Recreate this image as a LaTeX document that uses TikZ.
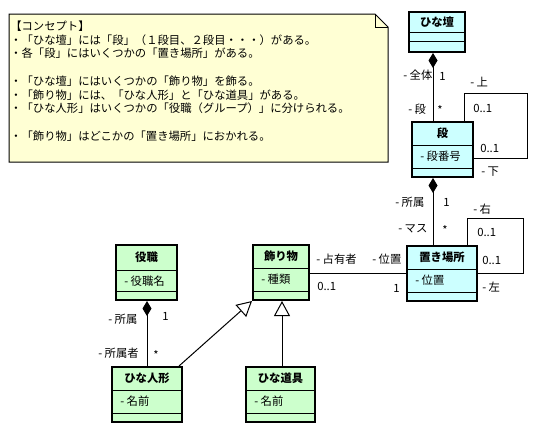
\documentclass[tikz,border=0pt]{standalone}
\usepackage{fontspec}
\setmainfont{Noto Sans CJK JP}
\usetikzlibrary{arrows.meta, positioning}
\newcommand{\pxu}{0.75pt}
\newcommand{\umlfont}{\fontsize{8.5pt}{10.3pt}\selectfont}
\definecolor{class green}{RGB}{204,255,204}
\definecolor{class cyan}{RGB}{204,255,255}
\definecolor{note yellow}{RGB}{255,255,212}
\tikzset{
  classBox/.style={draw, line width=1.5pt, inner sep=0pt, minimum height=55*\pxu},
  className/.style={font=\umlfont\bfseries, inner sep=0pt},
  attrName/.style={anchor=west, inner sep=0pt},
  part/.style={line width=0.75pt},
  role/.style={anchor=west, inner sep=0pt},
  link/.style={line width=0.75pt},
  compose/.style={link, -{Diamond[length=15*\pxu, width=9*\pxu]}},
  inherit/.style={link, -{Triangle[open, length=15*\pxu, width=16*\pxu, fill=white]}}
}

\begin{document}
\begin{tikzpicture}[x=0.75pt, y=-0.75pt, every node/.style={font=\umlfont}]
    \useasboundingbox[fill=white] (0,0) rectangle (543,433);
    % note
    \draw[fill=note yellow, line width=0.75pt] (9,14) -- (375,14) -- (388,27) -- (388,162) -- (9,162) -- cycle;
    \draw[line width=0.75pt] (375,14) -- (375,27) -- (388,27);
    \node[anchor=north west, align=left, inner sep=0pt] (concept) at (10,20.5) {%
      【コンセプト】\\
      ・「ひな壇」には「段」（１段目、２段目・・・）がある。\\
      ・各「段」にはいくつかの「置き場所」がある。\\[10.3pt]
      ・「ひな壇」にはいくつかの「飾り物」を飾る。\\
      ・「飾り物」には、「ひな人形」と「ひな道具」がある。\\
      ・「ひな人形」はいくつかの「役職（グループ）」に分けられる。\\[10.3pt]
      ・「飾り物」はどこかの「置き場所」におかれる。};

    % classes
    \node[classBox, fill=class cyan, minimum width=56*\pxu, minimum height=40*\pxu] (hinadan) at (437,32) {};
    \node[className] (hinadanTitle) at ([yshift=-11*\pxu]hinadan.north) {ひな壇};
    \draw[part] ([yshift=-21*\pxu]hinadan.north west) -- ([yshift=-21*\pxu]hinadan.north east);
    \draw[part] ([yshift=-30*\pxu]hinadan.north west) -- ([yshift=-30*\pxu]hinadan.north east);

    \node[classBox, fill=class cyan, minimum width=61*\pxu] (dan) at (442.5,149.5) {};
    \node[className] (danTitle) at ([yshift=-12*\pxu]dan.north) {段};
    \node[attrName] (danAttr) at ([xshift=9*\pxu, yshift=-35*\pxu]dan.north west) {- 段番号};
    \draw[part] ([yshift=-24*\pxu]dan.north west) -- ([yshift=-24*\pxu]dan.north east);
    \draw[part] ([yshift=-47*\pxu]dan.north west) -- ([yshift=-47*\pxu]dan.north east);

    \node[classBox, fill=class cyan, minimum width=70*\pxu] (okibasho) at (442,273.5) {};
    \node[className] (okibashoTitle) at ([yshift=-12*\pxu]okibasho.north) {置き場所};
    \node[attrName] (okibashoAttr) at ([xshift=9*\pxu, yshift=-35*\pxu]okibasho.north west) {- 位置};
    \draw[part] ([yshift=-24*\pxu]okibasho.north west) -- ([yshift=-24*\pxu]okibasho.north east);
    \draw[part] ([yshift=-47*\pxu]okibasho.north west) -- ([yshift=-47*\pxu]okibasho.north east);

    \node[classBox, fill=class green, minimum width=56*\pxu] (kazarimono) at (281,272.5) {};
    \node[className] (kazarimonoTitle) at ([yshift=-12*\pxu]kazarimono.north) {飾り物};
    \node[attrName] (kazarimonoAttr) at ([xshift=9*\pxu, yshift=-35*\pxu]kazarimono.north west) {- 種類};
    \draw[part] ([yshift=-24*\pxu]kazarimono.north west) -- ([yshift=-24*\pxu]kazarimono.north east);
    \draw[part] ([yshift=-47*\pxu]kazarimono.north west) -- ([yshift=-47*\pxu]kazarimono.north east);

    \node[classBox, fill=class green, minimum width=61*\pxu] (yakushoku) at (146.5,272.5) {};
    \node[className] (yakushokuTitle) at ([yshift=-13*\pxu]yakushoku.north) {役職};
    \node[attrName] (yakushokuAttr) at ([xshift=9*\pxu, yshift=-37*\pxu]yakushoku.north west) {- 役職名};
    \draw[part] ([yshift=-26*\pxu]yakushoku.north west) -- ([yshift=-26*\pxu]yakushoku.north east);
    \draw[part] ([yshift=-47*\pxu]yakushoku.north west) -- ([yshift=-47*\pxu]yakushoku.north east);

    \node[classBox, fill=class green, minimum width=70*\pxu] (ningyou) at (147,394.5) {};
    \node[className] (ningyouTitle) at ([yshift=-12*\pxu]ningyou.north) {ひな人形};
    \node[attrName] (ningyouAttr) at ([xshift=9*\pxu, yshift=-35*\pxu]ningyou.north west) {- 名前};
    \draw[part] ([yshift=-24*\pxu]ningyou.north west) -- ([yshift=-24*\pxu]ningyou.north east);
    \draw[part] ([yshift=-47*\pxu]ningyou.north west) -- ([yshift=-47*\pxu]ningyou.north east);

    \node[classBox, fill=class green, minimum width=69*\pxu] (dougu) at (280.5,394.5) {};
    \node[className] (douguTitle) at ([yshift=-12*\pxu]dougu.north) {ひな道具};
    \node[attrName] (douguAttr) at ([xshift=9*\pxu, yshift=-35*\pxu]dougu.north west) {- 名前};
    \draw[part] ([yshift=-24*\pxu]dougu.north west) -- ([yshift=-24*\pxu]dougu.north east);
    \draw[part] ([yshift=-47*\pxu]dougu.north west) -- ([yshift=-47*\pxu]dougu.north east);

    % connectors
    \coordinate (danLoop) at (527,93);
    \coordinate (okibashoLoop) at (523,218);
    \draw[compose] (dan.north -| 433,0) -- (hinadan.south -| 433,0);
    \draw[link] (dan.north -| 464,0) |- (danLoop) |- (dan.east |- 0,158);
    \draw[compose] (okibasho.north -| 433,0) -- (dan.south -| 433,0);
    \draw[link] (okibasho.north -| 467,0) |- (okibashoLoop) |- (okibasho.east |- 0,273);
    \draw[link] (kazarimono.east |- 0,273) -- (okibasho.west |- 0,273);
    \draw[compose] (ningyou.north -| 147,0) -- (yakushoku.south -| 147,0);
    \draw[inherit] ([xshift=-4*\pxu]ningyou.north east) -- (kazarimono.south west);
    \draw[inherit] (dougu.north -| 282,0) -- (kazarimono.south -| 282,0);

    % roles and multiplicities
    \node[role] (lblZentai) at (403,75) {- 全体};
    \node[role] (mulZentai) at (439,76) {1};
    \node[role] (lblDan) at (408,109) {- 段};
    \node[role] (mulDan) at (437,110) {*};
    \node[role] (lblUe) at (470,82) {- 上};
    \node[role] (mulUe) at (473,108) {0..1};
    \node[role] (mulShita) at (480,148) {0..1};
    \node[role] (lblShita) at (481,172) {- 下};
    \node[role] (lblShozoku) at (395,202) {- 所属};
    \node[role] (mulShozoku) at (443,202) {1};
    \node[role] (lblMasu) at (398,229) {- マス};
    \node[role] (mulMasu) at (442,230) {*};
    \node[role] (lblMigi) at (473,209) {- 右};
    \node[role] (mulMigi) at (477,232) {0..1};
    \node[role] (mulHidari) at (482,260) {0..1};
    \node[role] (lblHidari) at (482,287) {- 左};
    \node[role] (lblSenyu) at (316,259) {- 占有者};
    \node[role] (lblIchi) at (372,259) {- 位置};
    \node[role] (mulSenyu) at (317,286) {0..1};
    \node[role] (mulIchi) at (393,288) {1};
    \node[role] (lblYaku) at (108,319) {- 所属};
    \node[role] (mulYaku) at (162,316) {1};
    \node[role] (lblYakuSha) at (98,353) {- 所属者};
    \node[role] (mulYakuSha) at (153,355) {*};
\end{tikzpicture}
\end{document}
